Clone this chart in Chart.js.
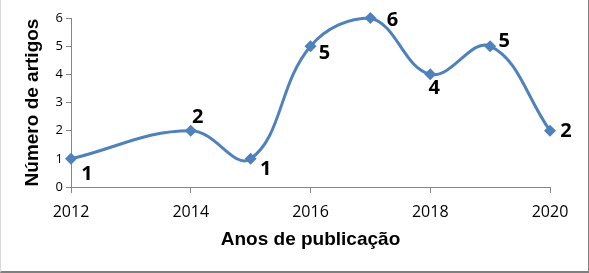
<!DOCTYPE html>
<html>
<head>
<meta charset="utf-8">
<script src="https://cdn.jsdelivr.net/npm/chart.js@4"></script>
<style>
  body { margin: 0; background: #fff; }
  #wrap { position: relative; width: 589px; height: 273px; }
  #frame {
    position: absolute; left: 0; top: 0; width: 589px; height: 273px;
    box-sizing: border-box; pointer-events: none;
    border-left: 1px solid #d9d9d9;
    border-right: 1px solid #7f7f7f;
    border-bottom: 2px solid #7f7f7f;
  }
</style>
</head>
<body>
<div id="wrap">
  <canvas id="chart" width="589" height="273"></canvas>
  <div id="frame"></div>
</div>
<script>
const years = [2012, 2014, 2015, 2016, 2017, 2018, 2019, 2020]
const articles = [1, 2, 1, 5, 6, 4, 5, 2]
const xTicks = [2012, 2014, 2016, 2018, 2020]
const yTicks = [0, 1, 2, 3, 4, 5, 6]

// where each value label sits relative to its point (dx, dy)
const labelOffsets = [[16, 15], [7, -13], [15, 10], [14, 7], [22, 2], [4, 14], [14, -5], [16, 1]]

const valueLabels = {
  id: 'valueLabels',
  afterDatasetsDraw(chart) {
    const ctx = chart.ctx
    const meta = chart.getDatasetMeta(0)
    ctx.save()
    ctx.font = 'bold 20px "Open Sans", sans-serif'
    ctx.fillStyle = '#000'
    ctx.textAlign = 'center'
    ctx.textBaseline = 'middle'
    meta.data.forEach((pt, i) => {
      const [dx, dy] = labelOffsets[i]
      ctx.fillText(String(articles[i]), pt.x + dx, pt.y + dy)
    })
    ctx.restore()
  },
}

new Chart(document.getElementById('chart').getContext('2d'), {
  type: 'line',
  data: {
    datasets: [{
      data: years.map((y, i) => ({ x: y, y: articles[i] })),
      borderColor: '#4f81bd',
      backgroundColor: '#4f81bd',
      borderWidth: 3,
      tension: 0.4,
      pointStyle: 'rectRot',
      pointRadius: 6,
      pointBorderWidth: 0,
      clip: false,
    }],
  },
  options: {
    responsive: false,
    animation: false,
    events: [],
    layout: { padding: { top: 18, right: 39, left: 0, bottom: 18 } },
    plugins: {
      legend: { display: false },
      tooltip: { enabled: false },
    },
    scales: {
      x: {
        type: 'linear',
        min: 2012,
        max: 2020,
        afterBuildTicks: (s) => { s.ticks = xTicks.map((v) => ({ value: v })) },
        afterFit: (s) => { s.height = 68 },
        border: { color: '#868686', width: 1 },
        grid: { drawOnChartArea: false, color: '#868686', tickLength: 6 },
        ticks: {
          color: '#000',
          padding: 10,
          maxRotation: 0,
          font: { family: '"Open Sans", sans-serif', size: 16 },
          callback: (v) => String(v),
        },
        title: {
          display: true,
          text: 'Anos de publicação',
          color: '#000',
          padding: { top: 4, bottom: 4 },
          font: { family: '"Liberation Sans", Arial, sans-serif', size: 19, weight: 'bold' },
        },
      },
      y: {
        min: 0,
        max: 6,
        afterBuildTicks: (s) => { s.ticks = yTicks.map((v) => ({ value: v })) },
        afterFit: (s) => { s.width = 71 },
        border: { color: '#868686', width: 1 },
        grid: { drawOnChartArea: false, color: '#868686', tickLength: 5 },
        ticks: {
          color: '#000',
          padding: 3,
          font: { family: '"Open Sans", sans-serif', size: 13 },
        },
        title: {
          display: true,
          text: 'Número de artigos',
          color: '#000',
          padding: { top: 21, bottom: 0 },
          font: { family: '"Liberation Sans", Arial, sans-serif', size: 19, weight: 'bold' },
        },
      },
    },
  },
  plugins: [valueLabels],
})
</script>
</body>
</html>
